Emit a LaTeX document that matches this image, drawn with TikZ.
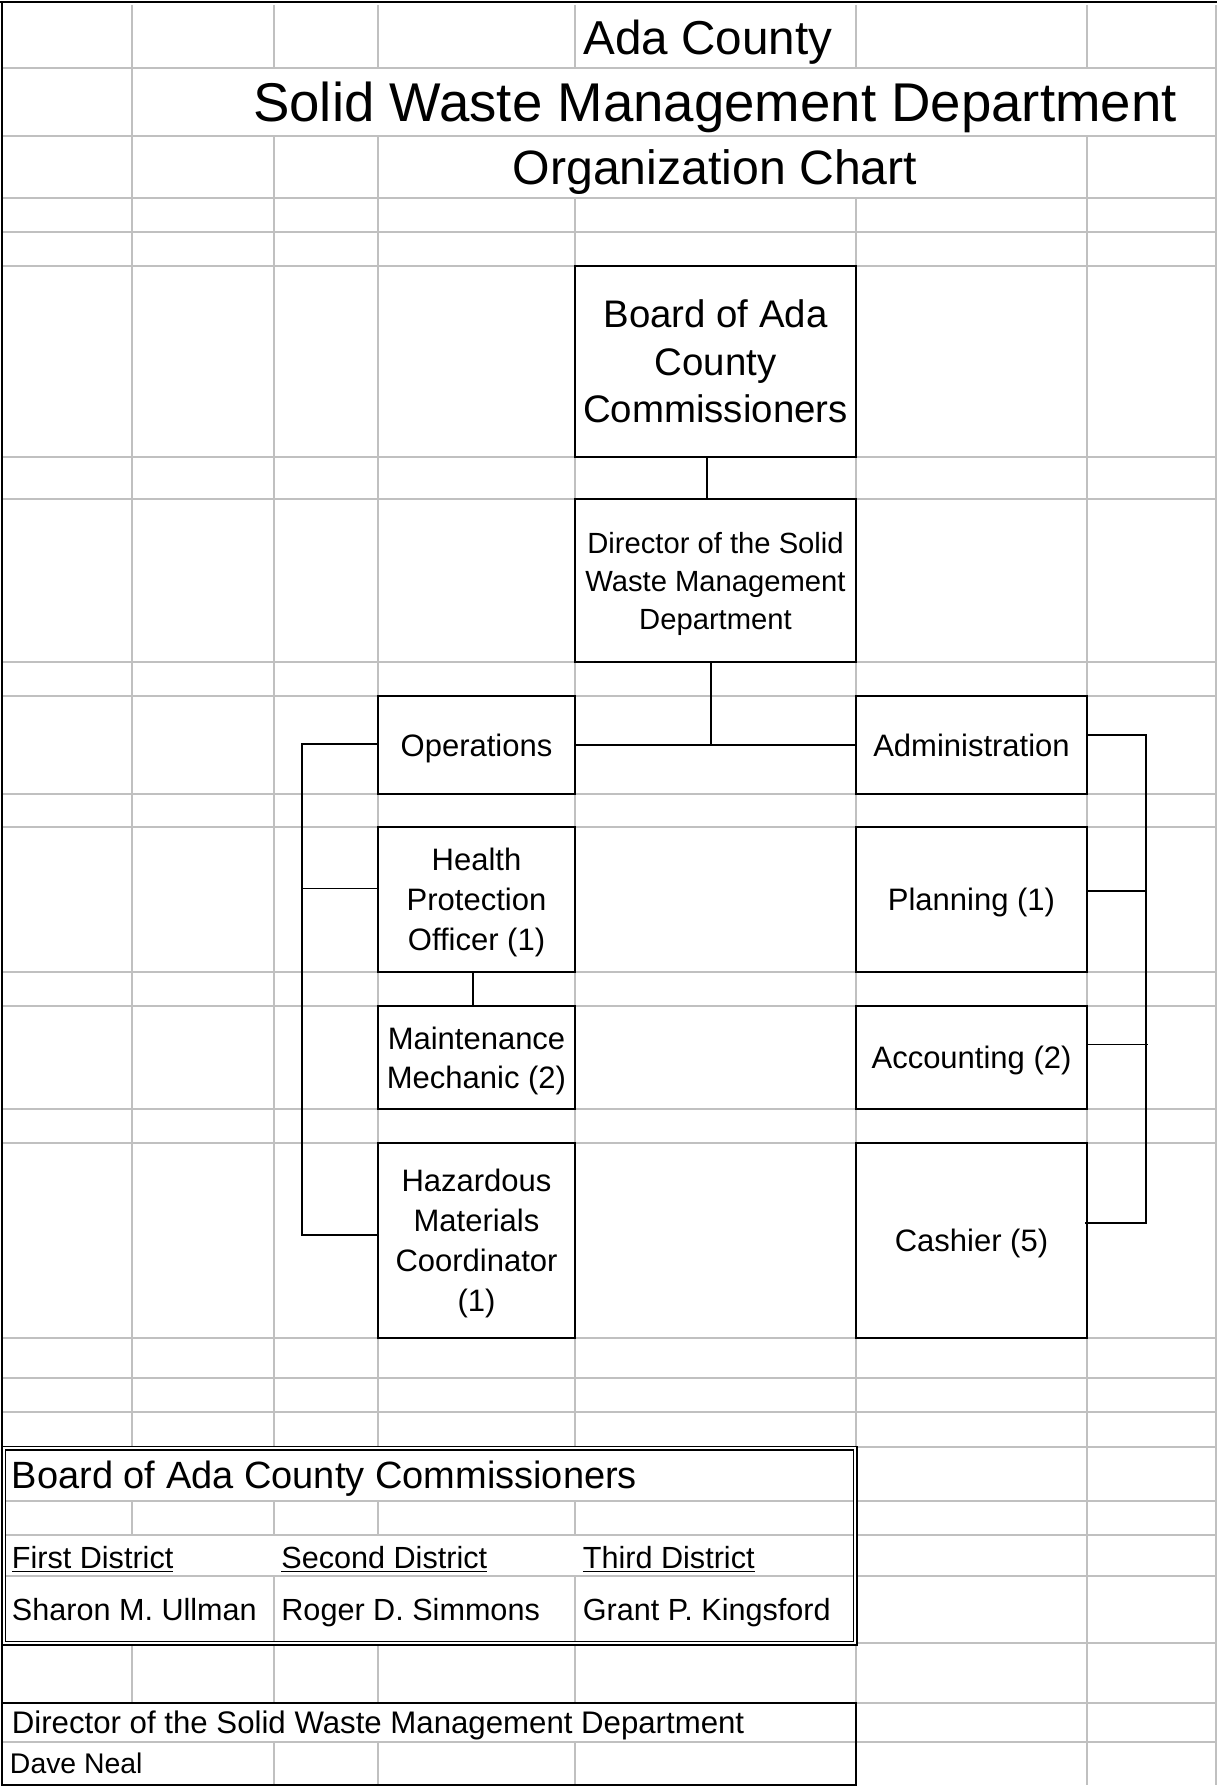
\documentclass[tikz,border=0pt]{standalone}
\usepackage{fontspec}
\setmainfont{Liberation Sans}
\usepackage{tikz}
\usetikzlibrary{positioning}
\usetikzlibrary{calc}
\definecolor{gridgrey}{RGB}{192,192,192}

\begin{document}
\begin{tikzpicture}[x=0.5pt, y=-0.5pt,
cell/.style = {draw=gridgrey, line width=0.75pt},
border/.style = {line width=0.7pt},
box/.style = {draw, line width=1pt, inner sep=0pt, text depth=0pt, align=center, minimum width=98.5pt, font=\fontsize{15.5}{20}\selectfont},
widebox/.style = {box, minimum width=115.5pt},
topbox/.style = {box, minimum width=140.5pt},
link/.style = {line width=0.65pt},
heading/.style = {inner sep=0pt, anchor=base},
txt/.style = {inner sep=0pt, anchor=base west, font=\fontsize{15.3}{18}\selectfont}]
\useasboundingbox (0,0) rectangle (1217,1786);

% spreadsheet grid
\foreach \y in {68,136,198,232,266,457,499,662,696,794,827,972,1006,1109,1143,1338,1378,1412,1447,1501,1535,1576,1643,1703,1742}
  \draw[cell] (2,\y) -- (1216,\y);
\foreach \x/\ya/\yb in {132/5/1447, 132/1501/1535, 132/1645/1703,
  274/5/68, 274/136/1447, 274/1501/1535, 274/1576/1643, 274/1645/1703, 274/1742/1785,
  378/5/68, 378/136/1447, 378/1501/1535, 378/1645/1703, 378/1742/1785,
  575/5/68, 575/198/1447, 575/1501/1535, 575/1576/1643, 575/1645/1703, 575/1742/1785,
  856/5/68, 856/198/1785, 1087/5/68, 1087/136/1785, 1216/5/1785}
  \draw[cell] (\x,\ya) -- (\x,\yb);
\draw[border] (0,2) -- (1217,2);
\draw[border] (2,2) -- (2,1786);

% titles
\node[heading, font=\fontsize{23.8}{28}\selectfont] (ada) at (708,55) {Ada County};
\node[heading, font=\fontsize{27.3}{32}\selectfont] (swmd) at (715,122) {Solid Waste Management Department};
\node[heading, font=\fontsize{24.1}{28}\selectfont] (org) at (715,184.5) {Organization Chart};

% chart
\node[topbox, minimum height=95.5pt, font=\fontsize{19.2}{23.75}\selectfont] (board) at (715.5,361.5) {Board of Ada\\County\\Commissioners};
\node[topbox, minimum height=81.5pt, font=\fontsize{14.6}{19}\selectfont] (dir) at (715.5,580.5) {Director of the Solid\\Waste Management\\Department};

\node[box, minimum height=49pt] (ops) at (476.5,745) {Operations};
\node[box, minimum height=72.5pt] (hpo) at (476.5,899.5) {Health\\Protection\\Officer (1)};
\node[box, minimum height=51.5pt, font=\fontsize{15.5}{19.5}\selectfont] (mm) at (476.5,1057.5) {Maintenance\\Mechanic (2)};
\node[box, minimum height=97.5pt] (haz) at (476.5,1240.5) {Hazardous\\Materials\\Coordinator\\(1)};

\node[widebox, minimum height=49pt] (adm) at (971.5,745) {Administration};
\node[widebox, minimum height=72.5pt] (plan) at (971.5,899.5) {Planning (1)};
\node[widebox, minimum height=51.5pt] (acct) at (971.5,1057.5) {Accounting (2)};
\node[widebox, minimum height=97.5pt] (cash) at (971.5,1240.5) {Cashier (5)};

\draw[link] ($(board.south)+(-8.5,0)$) -- ($(dir.north)+(-8.5,0)$);
\coordinate (j) at ($(dir.south)+(-4.5,0)$);
\draw[link] (j) -- (j |- ops.east);
\draw[link] (ops.east) -- (adm.west);
\draw[link] ($(hpo.south)+(-3.5,0)$) -- ($(mm.north)+(-3.5,0)$);

\draw[link] ($(ops.west)+(0,-1)$) -| ($(haz.west)+(-75,-5.5)$) -- ($(haz.west)+(0,-5.5)$);
\draw[link] ($(hpo.west)+(-75,-11)$) -- ($(hpo.west)+(0,-11)$);

\draw[link] ($(adm.east)+(0,-10)$) -| ($(cash.east)+(58,-17.5)$) -- ($(cash.east)+(-3,-17.5)$);
\draw[link] ($(plan.east)+(0,-8.5)$) -- ++(58,0);
\draw[link] ($(acct.east)+(0,-13)$) -- ++(60,0);

% commissioners and director tables
\draw[line width=0.7pt, double, double distance=1pt] (3.7,1448.3) rectangle (855.4,1643.3);
\draw[line width=1pt] (2,1703) rectangle (856,1785);

\node[txt, font=\fontsize{19}{23}\selectfont] (bhead) at (11.5,1488) {Board of Ada County Commissioners};
\node[txt] (d1) at (11.5,1568) {\underline{First District}};
\node[txt] (d2) at (281,1568) {\underline{Second District}};
\node[txt] (d3) at (582.5,1568) {\underline{Third District}};
\node[txt] (n1) at (11.5,1620) {Sharon M. Ullman};
\node[txt] (n2) at (281,1620) {Roger D. Simmons};
\node[txt] (n3) at (582.5,1620) {Grant P. Kingsford};
\node[txt, font=\fontsize{15.6}{19}\selectfont] (dhead) at (11.5,1733) {Director of the Solid Waste Management Department};
\node[txt, font=\fontsize{14.2}{17}\selectfont] (dname) at (9.6,1773) {Dave Neal};

\end{tikzpicture}
\end{document}
